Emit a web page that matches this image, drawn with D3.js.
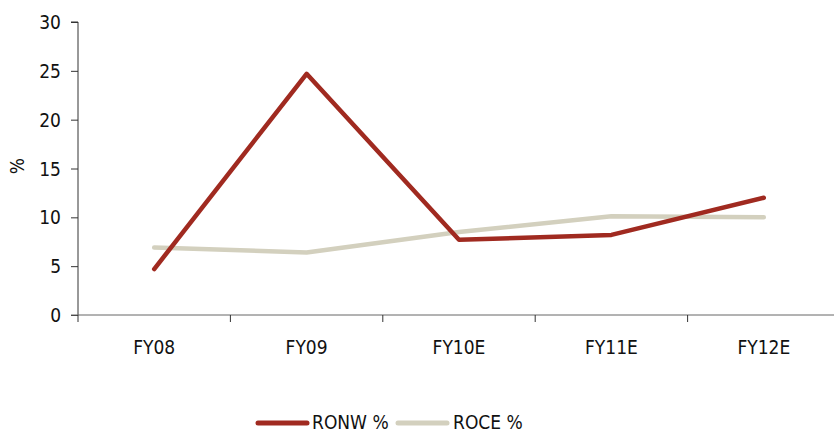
<!DOCTYPE html>
<html><head><meta charset="utf-8">
<script src="https://cdn.jsdelivr.net/npm/d3@7"></script>
<style>
html,body{margin:0;padding:0;background:#fff;}
svg text{font-family:"DejaVu Sans Condensed","Liberation Sans Narrow",sans-serif;font-stretch:condensed;fill:#111;}
</style></head>
<body>
<svg id="c" width="834" height="434"></svg>
<script>
const categories = ["FY08","FY09","FY10E","FY11E","FY12E"];
const ronw = [4.7, 24.7, 7.7, 8.2, 12.0];
const roce = [6.9, 6.4, 8.5, 10.1, 10.0];
const yTicks = [0,5,10,15,20,25,30];
const seriesNames = ["RONW %","ROCE %"];
const colors = ["#A02A20","#D3D0BE"];

(function(){
const svg = d3.select("#c");
const mLeft = 78, mRight = 840, mTop = 22, mBottom = 315;
const fs = "19px";
const x = d3.scaleBand().domain(categories).range([mLeft, mRight]);
const y = d3.scaleLinear().domain([0,30]).range([mBottom, mTop]);

// y axis
const ya = svg.append("g").attr("transform",`translate(${mLeft},0)`)
  .call(d3.axisLeft(y).tickValues(yTicks).tickSize(7).tickPadding(10));
ya.select(".domain").attr("stroke","#333").attr("d",`M-7,${mTop}H0V${mBottom}`);
ya.selectAll(".tick line").attr("stroke","#333");
ya.selectAll("text").style("font-size",fs).attr("fill","#111").attr("dy","0.35em");

// x axis
const xa = svg.append("g").attr("transform",`translate(0,${mBottom})`)
  .call(d3.axisBottom(x).tickSize(0).tickPadding(26));
xa.select(".domain").attr("stroke","#666").attr("d",`M${mLeft-7},0H834`);
xa.selectAll("text").style("font-size",fs).attr("fill","#111");
const bounds = categories.map(c => x(c)).concat([x(categories[categories.length-1]) + x.bandwidth()]);
svg.append("g").selectAll("line").data(bounds.filter(b => b <= 834)).join("line")
  .attr("x1", d => d).attr("x2", d => d).attr("y1", mBottom).attr("y2", mBottom+7)
  .attr("stroke","#333");

// y label
svg.append("text").attr("transform",`translate(24,166) rotate(-90)`)
  .attr("text-anchor","middle").style("font-size",fs).text("%");

const line = d3.line().x((d,i) => x(categories[i]) + x.bandwidth()/2).y(d => y(d));
[roce, ronw].forEach((s, j) => {
  const k = j === 0 ? 1 : 0;
  svg.append("path").datum(s).attr("d", line).attr("fill","none")
    .attr("stroke", colors[k]).attr("stroke-width", 4.5)
    .attr("stroke-linecap","round").attr("stroke-linejoin","round");
});

// legend
const leg = [{x1:258,x2:307,tx:312},{x1:398,x2:447,tx:453}];
leg.forEach((l,k) => {
  svg.append("line").attr("x1",l.x1).attr("x2",l.x2).attr("y1",423).attr("y2",423)
    .attr("stroke",colors[k]).attr("stroke-width",5).attr("stroke-linecap","round");
  svg.append("text").attr("x",l.tx).attr("y",429).style("font-size",fs).text(seriesNames[k]);
});
})();
</script>
</body></html>
